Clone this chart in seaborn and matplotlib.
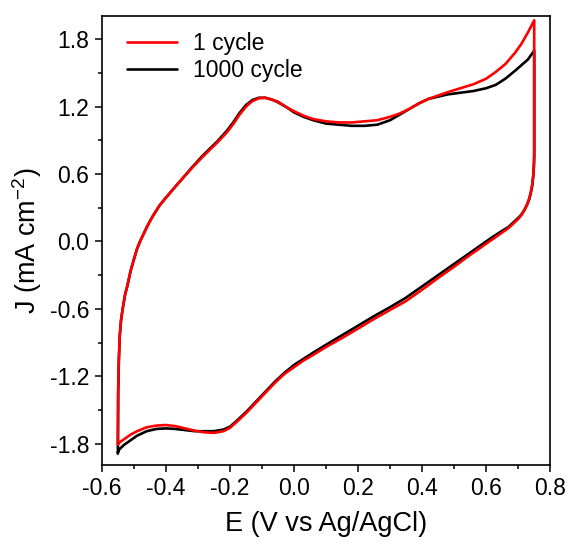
import matplotlib
matplotlib.use('Agg')
import matplotlib.pyplot as plt
import seaborn as sns
import pandas as pd
from matplotlib.ticker import MultipleLocator
from matplotlib.lines import Line2D

# anodic sweep, -0.55 -> 0.75 V
e_fwd = [-0.55, -0.549, -0.547, -0.544, -0.54, -0.535, -0.528, -0.52, -0.51, -0.50,
         -0.49, -0.48, -0.47, -0.46, -0.45, -0.44, -0.42, -0.40, -0.37, -0.35,
         -0.32, -0.29, -0.26, -0.24, -0.21, -0.19, -0.17, -0.15, -0.13, -0.11,
         -0.09, -0.07, -0.05, -0.02, 0.0, 0.03, 0.06, 0.10, 0.14, 0.18,
         0.22, 0.26, 0.30, 0.33, 0.36, 0.39, 0.42, 0.45, 0.48, 0.52,
         0.56, 0.60, 0.63, 0.66, 0.69, 0.71, 0.73, 0.75]
j_fwd_1 = [-1.80, -1.30, -1.05, -0.83, -0.70, -0.60, -0.48, -0.39, -0.26, -0.16,
           -0.065, 0.005, 0.065, 0.125, 0.18, 0.23, 0.32, 0.39, 0.49, 0.555,
           0.65, 0.74, 0.825, 0.88, 0.97, 1.045, 1.13, 1.20, 1.25, 1.275,
           1.28, 1.265, 1.245, 1.19, 1.16, 1.12, 1.09, 1.07, 1.06, 1.06,
           1.07, 1.08, 1.11, 1.14, 1.18, 1.23, 1.27, 1.30, 1.33, 1.365,
           1.40, 1.45, 1.51, 1.58, 1.68, 1.76, 1.86, 1.97]
j_fwd_1000 = [-1.89, -1.35, -1.07, -0.84, -0.70, -0.60, -0.48, -0.39, -0.26, -0.16,
              -0.065, 0.005, 0.065, 0.125, 0.18, 0.23, 0.32, 0.39, 0.49, 0.555,
              0.655, 0.75, 0.835, 0.89, 0.985, 1.06, 1.145, 1.215, 1.26, 1.28,
              1.28, 1.265, 1.24, 1.19, 1.15, 1.11, 1.08, 1.05, 1.04, 1.03,
              1.03, 1.04, 1.08, 1.13, 1.18, 1.23, 1.27, 1.29, 1.31, 1.325,
              1.34, 1.365, 1.395, 1.45, 1.52, 1.57, 1.62, 1.70]

# cathodic sweep, 0.75 -> -0.55 V
e_rev = [0.75, 0.749, 0.747, 0.744, 0.74, 0.735, 0.728, 0.72, 0.71, 0.70,
         0.685, 0.67, 0.65, 0.62, 0.58, 0.54, 0.50, 0.45, 0.40, 0.35,
         0.30, 0.25, 0.20, 0.15, 0.10, 0.06, 0.03, 0.0, -0.03, -0.06,
         -0.09, -0.12, -0.15, -0.18, -0.20, -0.22, -0.25, -0.28, -0.31, -0.34,
         -0.37, -0.40, -0.43, -0.46, -0.49, -0.51, -0.53, -0.545, -0.55]
j_rev_1 = [0.78, 0.68, 0.59, 0.51, 0.45, 0.39, 0.33, 0.28, 0.235, 0.20,
           0.16, 0.12, 0.08, 0.02, -0.06, -0.14, -0.225, -0.325, -0.43, -0.53,
           -0.61, -0.69, -0.776, -0.86, -0.94, -1.01, -1.06, -1.12, -1.18, -1.26,
           -1.35, -1.44, -1.53, -1.61, -1.66, -1.69, -1.705, -1.70, -1.685, -1.665,
           -1.645, -1.635, -1.64, -1.655, -1.69, -1.72, -1.76, -1.79, -1.81]
j_rev_1000 = [0.76, 0.67, 0.58, 0.50, 0.44, 0.38, 0.33, 0.285, 0.24, 0.21,
              0.17, 0.13, 0.095, 0.04, -0.04, -0.12, -0.20, -0.30, -0.40, -0.50,
              -0.585, -0.665, -0.75, -0.835, -0.92, -0.99, -1.045, -1.10, -1.17, -1.25,
              -1.34, -1.43, -1.52, -1.60, -1.65, -1.675, -1.69, -1.69, -1.69, -1.68,
              -1.67, -1.665, -1.67, -1.69, -1.73, -1.77, -1.81, -1.85, -1.88]

labels = ['1 cycle', '1000 cycle']
colors = ['red', 'black']

sns.set_style('ticks', {'axes.edgecolor': 'black', 'text.color': 'black',
                        'axes.labelcolor': 'black', 'xtick.color': 'black',
                        'ytick.color': 'black'})
plt.rcParams['font.family'] = ['Liberation Sans', 'DejaVu Sans']
plt.rcParams['mathtext.default'] = 'regular'

# one dataframe per cycle, rows kept in scan order
df_1 = pd.DataFrame({'E': e_fwd + e_rev, 'J': j_fwd_1 + j_rev_1})
df_1000 = pd.DataFrame({'E': e_fwd + e_rev, 'J': j_fwd_1000 + j_rev_1000})

fig = plt.figure(figsize=(5.69, 5.45), dpi=100)
ax = fig.add_axes([0.179, 0.147, 0.788, 0.824])

# black first so the red trace sits on top
sns.lineplot(data=df_1000, x='E', y='J', sort=False, estimator=None,
             color=colors[1], linewidth=1.9, ax=ax)
sns.lineplot(data=df_1, x='E', y='J', sort=False, estimator=None,
             color=colors[0], linewidth=1.9, ax=ax)

ax.set_xlim(-0.6, 0.8)
ax.set_ylim(-1.99, 2.01)
ax.xaxis.set_major_locator(MultipleLocator(0.2))
ax.xaxis.set_minor_locator(MultipleLocator(0.1))
ax.yaxis.set_major_locator(MultipleLocator(0.6))
ax.yaxis.set_minor_locator(MultipleLocator(0.3))
ax.tick_params(which='both', direction='out', width=1.1, labelsize=16.5, pad=4,
               top=False, right=False)
ax.tick_params(which='major', length=5)
ax.tick_params(which='minor', length=3)
ax.set_xticklabels([f'{v:.1f}' for v in ax.get_xticks()])
ax.set_yticklabels([f'{v:.1f}' for v in ax.get_yticks()])
for s in ax.spines.values():
    s.set_linewidth(1.2)

ax.set_xlabel('E (V vs Ag/AgCl)', fontsize=19.5, labelpad=8)
ax.set_ylabel('J (mA cm$^{-2}$)', fontsize=19.5, labelpad=4)

handles = [Line2D([], [], color=c, linewidth=1.9) for c in colors]
ax.legend(handles, labels, loc='upper left', bbox_to_anchor=(0.025, 0.995),
          frameon=False, fontsize=16.5, handlelength=2.2, handletextpad=0.7,
          labelspacing=0.2, borderaxespad=0.2)

fig.savefig('out.png', dpi=100)
